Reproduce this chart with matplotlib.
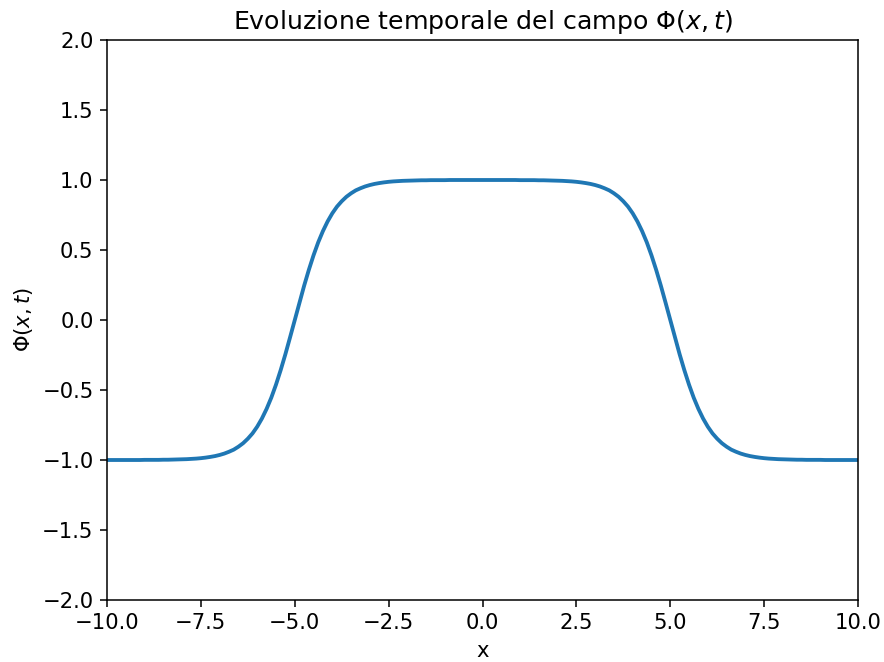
import numpy as np
import matplotlib
matplotlib.use("Agg")
import matplotlib.pyplot as plt

plt.rcParams["font.size"] = 11

x_vals = np.linspace(-10, 10, 161)
phi_vals = [
    # x = -10.0 ... -5.0
    -1.000, -1.000, -1.000, -1.000, -1.000, -1.000, -1.000, -1.000,
    -0.999, -0.999, -0.999, -0.999, -0.998, -0.998, -0.997, -0.996,
    -0.995, -0.994, -0.992, -0.990, -0.987, -0.983, -0.978, -0.972,
    -0.964, -0.954, -0.941, -0.926, -0.905, -0.880, -0.848, -0.810,
    -0.762, -0.704, -0.635, -0.555, -0.462, -0.358, -0.245, -0.124,
    0.000,
    # x = -4.875 ... 0.0
    0.124, 0.245, 0.358, 0.462, 0.555, 0.635, 0.704, 0.762,
    0.810, 0.848, 0.880, 0.905, 0.926, 0.941, 0.954, 0.964,
    0.972, 0.978, 0.983, 0.987, 0.990, 0.992, 0.994, 0.995,
    0.996, 0.997, 0.998, 0.998, 0.999, 0.999, 0.999, 0.999,
    1.000, 1.000, 1.000, 1.000, 1.000, 1.000, 1.000, 1.000,
    # x = 0.125 ... 5.0
    1.000, 1.000, 1.000, 1.000, 1.000, 1.000, 1.000,
    0.999, 0.999, 0.999, 0.999, 0.998, 0.998, 0.997, 0.996,
    0.995, 0.994, 0.992, 0.990, 0.987, 0.983, 0.978, 0.972,
    0.964, 0.954, 0.941, 0.926, 0.905, 0.880, 0.848, 0.810,
    0.762, 0.704, 0.635, 0.555, 0.462, 0.358, 0.245, 0.124,
    0.000,
    # x = 5.125 ... 10.0
    -0.124, -0.245, -0.358, -0.462, -0.555, -0.635, -0.704, -0.762,
    -0.810, -0.848, -0.880, -0.905, -0.926, -0.941, -0.954, -0.964,
    -0.972, -0.978, -0.983, -0.987, -0.990, -0.992, -0.994, -0.995,
    -0.996, -0.997, -0.998, -0.998, -0.999, -0.999, -0.999, -0.999,
    -1.000, -1.000, -1.000, -1.000, -1.000, -1.000, -1.000, -1.000,
]

fig, ax = plt.subplots(figsize=(884 / 138, 662 / 138), dpi=138)
fig.subplots_adjust(left=107 / 884, right=858 / 884, top=1 - 40 / 662, bottom=1 - 600 / 662)
ax.plot(x_vals, phi_vals, color="#1f77b4", lw=2)
ax.set_xlim(-10, 10)
ax.set_ylim(-2, 2)
ax.set_xlabel("x")
ax.set_ylabel(r"$\Phi(x,t)$")
ax.set_title(r"Evoluzione temporale del campo $\Phi(x,t)$")
fig.savefig("out.png", dpi=138)
